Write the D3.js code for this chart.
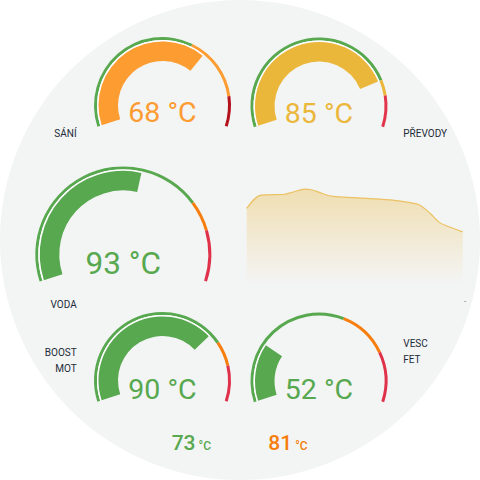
<!DOCTYPE html>
<html>
<head>
<meta charset="utf-8">
<script src="https://cdn.jsdelivr.net/npm/d3@7"></script>
<style>
  html, body { margin: 0; padding: 0; background: #fff; }
  svg { display: block; font-family: Roboto, "Noto Sans", sans-serif; }
</style>
</head>
<body>
<div id="chart"></div>
<script>
// gauges
const gaugeNames = ["SÁNÍ", "PŘEVODY", "VODA", "BOOST MOT", "VESC FET"];
const gaugeValues = [68, 85, 93, 90, 52];
const gaugeMin = [0, 20, 40, 40, 40];
const gaugeMax = [100, 100, 135, 110, 90];
const gaugeWarn = [62, 85, 111, 93, 70];
const gaugeCrit = [88, 90, 120, 100, 80];
const gaugeColors = [
  ["#57a84f", "#fd9c31", "#b3111c"],
  ["#57a84f", "#ebb73a", "#e2354b"],
  ["#57a84f", "#f77d0c", "#e0314b"],
  ["#57a84f", "#f77d0c", "#e0314b"],
  ["#57a84f", "#f77d0c", "#e0314b"]
];

// history (PŘEVODY)
const histMinutes = [0, 4, 6, 10, 13, 16, 18, 21, 24, 30, 36, 42, 46, 48, 51, 53.5, 56, 60];
const histValues = [82.6, 86.8, 86.9, 87.0, 87.8, 88.7, 88.5, 87.3, 86.4, 86.0, 85.6, 85.0, 84.3, 83.7, 81.0, 78.2, 76.9, 75.2];

// small readouts
const extraValues = [73, 81];
const extraColors = ["#57a84f", "#f77d0c"];

const W = 480, H = 480;
const svg = d3.select("#chart").append("svg")
    .attr("width", W)
    .attr("height", H);

svg.append("circle")
    .attr("cx", 240).attr("cy", 240).attr("r", 240)
    .attr("fill", "#f3f4f4");

// layout per gauge
const layout = [
  { cx: 162.5, cy: 105.5, r: 68.5, fs: 28.5, ty: 16.5 },
  { cx: 319, cy: 106, r: 68.5, fs: 28.5, ty: 16.5 },
  { cx: 123.3, cy: 254.4, r: 88, fs: 31.5, ty: 20 },
  { cx: 162.5, cy: 380.5, r: 68.5, fs: 28.5, ty: 18 },
  { cx: 319, cy: 381, r: 68.5, fs: 28.5, ty: 17.5 }
];

const span = 108 * Math.PI / 180;
const arc = d3.arc();

gaugeNames.forEach((name, i) => {
  const L = layout[i];
  const ang = d3.scaleLinear()
      .domain([gaugeMin[i], gaugeMax[i]])
      .range([-span, span])
      .clamp(true);
  const g = svg.append("g").attr("transform", `translate(${L.cx},${L.cy})`);
  const cols = gaugeColors[i];
  const segs = [
    [gaugeMin[i], gaugeWarn[i], cols[0]],
    [gaugeWarn[i], gaugeCrit[i], cols[1]],
    [gaugeCrit[i], gaugeMax[i], cols[2]]
  ];
  // severity ring
  segs.forEach(s => {
    g.append("path")
        .attr("d", arc({ innerRadius: L.r - 3, outerRadius: L.r, startAngle: ang(s[0]), endAngle: ang(s[1]) }))
        .attr("fill", s[2]);
  });
  const v = gaugeValues[i];
  const fillColor = v < gaugeWarn[i] ? cols[0] : (v < gaugeCrit[i] ? cols[1] : cols[2]);
  // white separator along the value band
  g.append("path")
      .attr("d", arc({ innerRadius: L.r - 4.5, outerRadius: L.r - 3, startAngle: ang(gaugeMin[i]), endAngle: ang(v) }))
      .attr("fill", "#ffffff");
  // value band
  g.append("path")
      .attr("d", arc({ innerRadius: L.r - 24, outerRadius: L.r - 4.5, startAngle: ang(gaugeMin[i]), endAngle: ang(v) }))
      .attr("fill", fillColor);
  g.append("text")
      .attr("x", 0)
      .attr("y", L.ty)
      .attr("text-anchor", "middle")
      .attr("font-size", L.fs)
      .attr("font-weight", 400)
      .attr("fill", fillColor)
      .text(v + " °C");
});

// labels
const labelStyle = sel => sel
    .attr("font-size", 10)
    .attr("font-weight", 400)
    .attr("fill", "#222b38");
const labels = [
  { lines: ["SÁNÍ"], x: 76.7, y: 137, anchor: "end" },
  { lines: ["PŘEVODY"], x: 403.3, y: 137, anchor: "start" },
  { lines: ["VODA"], x: 76.7, y: 308, anchor: "end" },
  { lines: ["BOOST", "MOT"], x: 76.7, y: 356, anchor: "end" },
  { lines: ["VESC", "FET"], x: 403.3, y: 347, anchor: "start" }
];
labels.forEach(l => {
  l.lines.forEach((t, j) => {
    svg.append("text")
        .attr("x", l.x)
        .attr("y", l.y + j * 16)
        .attr("text-anchor", l.anchor)
        .call(labelStyle)
        .text(t);
  });
});

// history area
const x = d3.scaleLinear().domain([0, 60]).range([246.7, 462.7]);
const y = d3.scaleLinear().domain([60, 90]).range([280, 185]);
const defs = svg.append("defs");
const grad = defs.append("linearGradient")
    .attr("id", "areaGrad")
    .attr("gradientUnits", "userSpaceOnUse")
    .attr("x1", 0).attr("x2", 0)
    .attr("y1", y(89)).attr("y2", 284);
grad.append("stop").attr("offset", 0).attr("stop-color", "#ebb73a").attr("stop-opacity", 0.36);
grad.append("stop").attr("offset", 1).attr("stop-color", "#ebb73a").attr("stop-opacity", 0);

const pts = histMinutes.map((m, i) => [m, histValues[i]]);
svg.append("path")
    .datum(pts)
    .attr("fill", "url(#areaGrad)")
    .attr("d", d3.area()
        .x(d => x(d[0]))
        .y0(284)
        .y1(d => y(d[1]))
        .curve(d3.curveMonotoneX));
svg.append("path")
    .datum(pts)
    .attr("fill", "none")
    .attr("stroke", "#ebc262")
    .attr("stroke-width", 1.2)
    .attr("d", d3.line()
        .x(d => x(d[0]))
        .y(d => y(d[1]))
        .curve(d3.curveMonotoneX));

svg.append("text")
    .attr("x", 464)
    .attr("y", 304)
    .attr("font-size", 8)
    .attr("fill", "#5a6b80")
    .text("-");

// small readouts
const extraX = [171.7, 268.3];
extraValues.forEach((v, i) => {
  const t = svg.append("text")
      .attr("x", extraX[i])
      .attr("y", 450)
      .attr("fill", extraColors[i]);
  t.append("tspan")
      .attr("font-size", 21)
      .attr("font-weight", 500)
      .text(v);
  t.append("tspan")
      .attr("dx", 3)
      .attr("font-size", 12)
      .attr("font-weight", 500)
      .text("°C");
});
</script>
</body>
</html>
